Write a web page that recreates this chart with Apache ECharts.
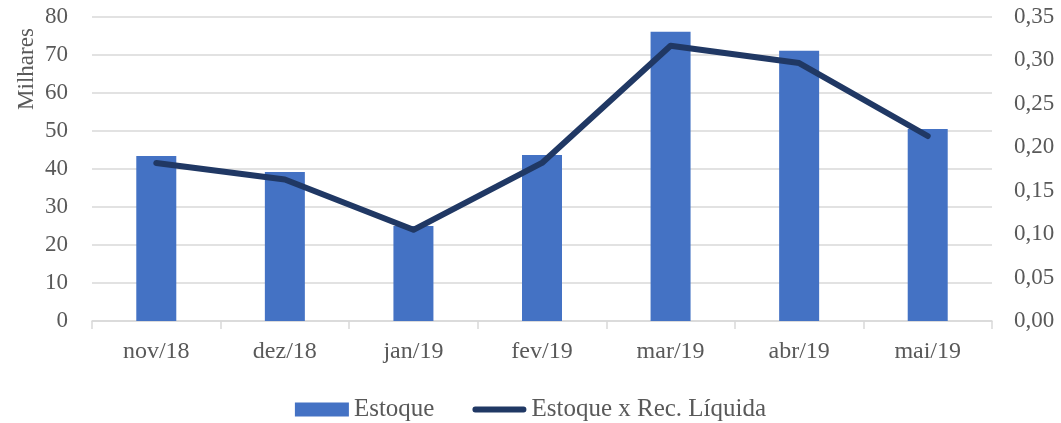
<!DOCTYPE html>
<html>
<head>
<meta charset="utf-8">
<script src="https://cdn.jsdelivr.net/npm/echarts@6/dist/echarts.min.js"></script>
<style>
  html, body { margin: 0; padding: 0; background: #fff; }
  #chart { width: 1061px; height: 423px; }
</style>
</head>
<body>
<div id="chart"></div>
<script>
// dados do gráfico
const meses = ['nov/18', 'dez/18', 'jan/19', 'fev/19', 'mar/19', 'abr/19', 'mai/19'];
const estoque = [43.4, 39.2, 25.0, 43.7, 76.1, 71.1, 50.5];
const estoqueRecLiquida = [0.182, 0.163, 0.105, 0.182, 0.317, 0.297, 0.213];

const fonte = "'Liberation Serif', 'DejaVu Serif', serif";
const cinza = '#595959';
const azul = '#4472c4';
const marinho = '#203864';

const chart = echarts.init(document.getElementById('chart'));
chart.setOption({
  animation: false,
  textStyle: { fontFamily: fonte },
  grid: { left: 92, right: 69, top: 17, bottom: 102 },
  // título do eixo esquerdo, junto ao topo como no original
  graphic: [{
    type: 'text',
    x: 27,
    y: 69,
    rotation: Math.PI / 2,
    style: {
      text: 'Milhares',
      fill: cinza,
      font: "23px 'Liberation Serif', serif",
      align: 'center',
      verticalAlign: 'middle'
    }
  }],
  legend: {
    top: 392,
    left: 'center',
    itemWidth: 54,
    itemHeight: 14,
    itemGap: 38,
    textStyle: { fontFamily: fonte, fontSize: 25, color: cinza },
    data: [
      { name: 'Estoque', icon: 'rect' },
      { name: 'Estoque x Rec. Líquida', icon: 'path://M3,0 H53 A3,3 0 0 1 53,6 H3 A3,3 0 0 1 3,0 Z' }
    ]
  },
  xAxis: {
    type: 'category',
    data: meses,
    axisLine: { lineStyle: { color: '#d9d9d9', width: 1.5 } },
    axisTick: { show: true, length: 8, lineStyle: { color: '#d9d9d9', width: 1.5 } },
    axisLabel: { fontFamily: fonte, fontSize: 24, color: cinza, margin: 19 }
  },
  yAxis: [
    {
      type: 'value',
      min: 0,
      max: 80,
      interval: 10,
      axisLine: { show: false },
      axisTick: { show: false },
      axisLabel: { fontFamily: fonte, fontSize: 23, color: cinza, margin: 24 },
      splitLine: { lineStyle: { color: '#d9d9d9', width: 1.5 } }
    },
    {
      type: 'value',
      min: 0,
      max: 0.35,
      interval: 0.05,
      axisLine: { show: false },
      axisTick: { show: false },
      splitLine: { show: false },
      axisLabel: {
        fontFamily: fonte, fontSize: 23, color: cinza, margin: 22,
        formatter: v => v.toFixed(2).replace('.', ',')
      }
    }
  ],
  series: [
    {
      name: 'Estoque',
      type: 'bar',
      yAxisIndex: 0,
      barWidth: 40,
      itemStyle: { color: azul },
      data: estoque
    },
    {
      name: 'Estoque x Rec. Líquida',
      type: 'line',
      yAxisIndex: 1,
      symbol: 'none',
      lineStyle: { color: marinho, width: 6, cap: 'round', join: 'round' },
      itemStyle: { color: marinho },
      data: estoqueRecLiquida
    }
  ]
});
</script>
</body>
</html>
